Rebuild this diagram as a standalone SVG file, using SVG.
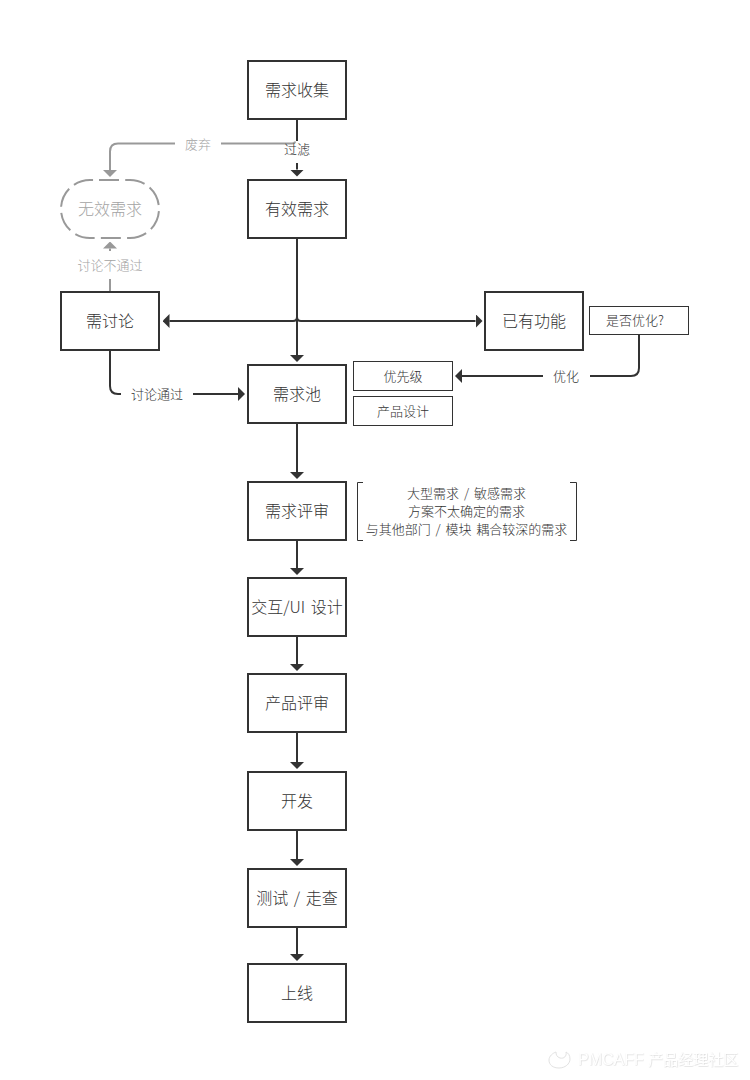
<svg xmlns="http://www.w3.org/2000/svg" width="750" height="1080" viewBox="0 0 750 1080">
<style>
text{font-family:"Noto Sans CJK SC","Noto Sans",sans-serif;text-anchor:middle;fill:#333;font-weight:300}
.box{fill:#fff;stroke:#333;stroke-width:2}
.small{fill:#fff;stroke:#333;stroke-width:1}
.t16{font-size:16px}
.t12{font-size:13px}
.sp{word-spacing:2px}
.lgray{fill:#a3a3a3}
.c{fill:none;stroke:#333;stroke-width:2;marker-end:url(#ad)}
.n{fill:none;stroke:#333;stroke-width:2}
.g{fill:none;stroke:#999;stroke-width:2;marker-end:url(#ag)}
.g0{fill:none;stroke:#999;stroke-width:2}
.wm{fill:#fff;font-family:"Liberation Sans","Noto Sans CJK SC",sans-serif;font-size:16px;font-weight:400;text-anchor:start;filter:url(#sh)}
.wm tspan{fill:#fff;font-size:15px}
</style>
<defs>
<marker id="ad" markerUnits="userSpaceOnUse" markerWidth="7" markerHeight="14" viewBox="0 0 7 14" refX="0" refY="7" orient="auto"><path d="M0 0L7 7L0 14z" fill="#333"/></marker>
<marker id="ag" markerUnits="userSpaceOnUse" markerWidth="7" markerHeight="14" viewBox="0 0 7 14" refX="0" refY="7" orient="auto"><path d="M0 0L7 7L0 14z" fill="#999"/></marker>
<filter id="sh" x="-10%" y="-30%" width="120%" height="160%"><feDropShadow dx="0.5" dy="0.5" stdDeviation="0.6" flood-color="#999" flood-opacity="0.45"/></filter>
</defs>
<g id="connectors">
<path class="g0" d="M295 141.500Q295 143.500 292 143.500H221"/>
<path class="g" d="M175 143.500H118Q110 143.500 110 151.500V170"/>
<path class="n" d="M297 119V141"/>
<path class="c" d="M297 163V169.500"/>
<path class="g0" d="M110 292V279"/>
<path class="g" d="M110 251V248.500"/>
<path class="c" d="M297 238V355"/>
<path class="c" d="M293 321H169.500"/>
<path class="c" d="M301 321H475.500"/>
<path class="n" d="M293 321Q297 321 297 317Q297 321 301 321"/>
<path class="n" d="M110 350V386Q110 394 118 394H121"/>
<path class="c" d="M193 394H238"/>
<path class="n" d="M639 335V368Q639 376 631 376H590"/>
<path class="c" d="M543 376H462"/>
<path class="c" d="M297 423V472"/>
<path class="c" d="M297 540V568"/>
<path class="c" d="M297 636V664"/>
<path class="c" d="M297 732V762"/>
<path class="c" d="M297 830V859"/>
<path class="c" d="M297 927V954"/>
</g>
<g id="n1"><rect class="box" x="248" y="61" width="98" height="58"/><text class="t16" x="297" y="96">需求收集</text></g>
<g id="n2"><rect class="box" x="248" y="180" width="98" height="58"/><text class="t16" x="297" y="215">有效需求</text></g>
<g id="n3"><path d="M99 180H130A29 29 0 0 1 130 238H90A29 29 0 0 1 90 180Z" fill="#fff" stroke="#999" stroke-width="2" stroke-dasharray="20 6.220"/><text class="t16 lgray" x="110" y="215">无效需求</text></g>
<g id="n4"><rect class="box" x="61" y="292" width="98" height="58"/><text class="t16" x="110" y="327">需讨论</text></g>
<g id="n5"><rect class="box" x="485" y="292" width="98" height="58"/><text class="t16" x="534" y="327">已有功能</text></g>
<g id="n6"><rect class="small" x="589.500" y="306.500" width="99" height="28"/><text class="t12" x="635" y="325">是否优化?</text></g>
<g id="n7"><rect class="box" x="248" y="365" width="98" height="58"/><text class="t16" x="297" y="400">需求池</text></g>
<g id="n8"><rect class="small" x="353.500" y="361.500" width="99" height="29"/><text class="t12" x="403" y="381">优先级</text></g>
<g id="n9"><rect class="small" x="353.500" y="396.500" width="99" height="29"/><text class="t12" x="403" y="416">产品设计</text></g>
<g id="n10"><rect class="box" x="248" y="482" width="98" height="58"/><text class="t16" x="297" y="517">需求评审</text></g>
<g id="n11"><path d="M363 482.500H357.500V540.500H363M570 482.500H576.500V540.500H570" fill="none" stroke="#333" stroke-width="1"/><text class="t12 sp" x="466.500" y="497.500">大型需求 / 敏感需求</text><text class="t12" x="466.500" y="515.500">方案不太确定的需求</text><text class="t12 sp" x="466.500" y="533.500">与其他部门 / 模块 耦合较深的需求</text></g>
<g id="n12"><rect class="box" x="248" y="578" width="98" height="58"/><text class="t16 sp" x="297" y="613">交互/UI 设计</text></g>
<g id="n13"><rect class="box" x="248" y="674" width="98" height="58"/><text class="t16" x="297" y="709">产品评审</text></g>
<g id="n14"><rect class="box" x="248" y="772" width="98" height="58"/><text class="t16" x="297" y="807">开发</text></g>
<g id="n15"><rect class="box" x="248" y="869" width="98" height="58"/><text class="t16 sp" x="297" y="904">测试 / 走查</text></g>
<g id="n16"><rect class="box" x="248" y="964" width="98" height="58"/><text class="t16" x="297" y="999">上线</text></g>
<g id="labels">
<text class="t12 lgray" x="198" y="148.500">废弃</text>
<text class="t12" x="297" y="154">过滤</text>
<text class="t12 lgray" x="110" y="270">讨论不通过</text>
<text class="t12" x="157" y="399">讨论通过</text>
<text class="t12" x="566" y="381">优化</text>
</g>
<g id="watermark">
<path d="M556 1052C553 1053 549 1056 549 1060C549 1065 553 1068 559 1068C565 1068 570 1064 570 1059C570 1055 568 1053 566 1052C567 1056 564 1059 560 1058C557 1057 556 1055 556 1052Z" fill="#fff" stroke="#e2e2e2" stroke-width="1"/>
<text class="wm" x="578" y="1065">PMCAFF <tspan>产品经理社区</tspan></text>
</g>
</svg>
